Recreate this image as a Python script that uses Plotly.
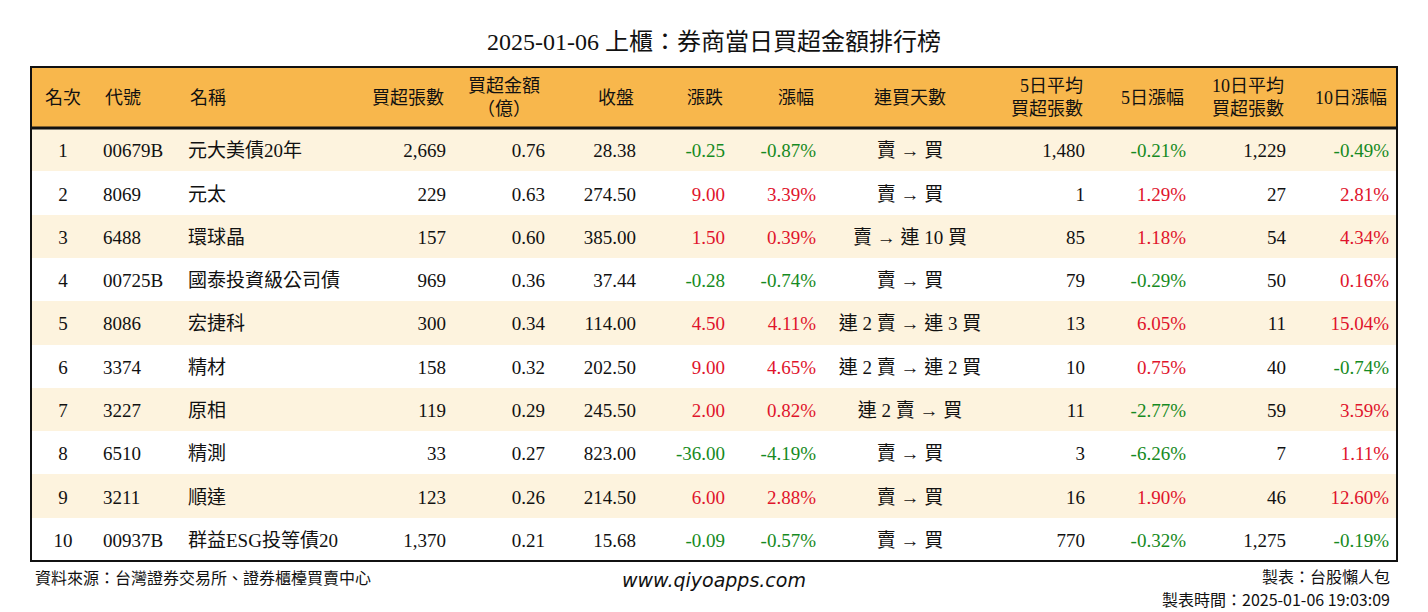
import plotly.graph_objects as go

W, H = 1428, 612

title = "2025-01-06 上櫃：券商當日買超金額排行榜"

headers = ["名次", "代號", "名稱", "買超張數", "買超金額<br>（億）", "收盤", "漲跌", "漲幅",
           "連買天數", "5日平均<br>買超張數", "5日漲幅", "10日平均<br>買超張數", "10日漲幅"]

rank = ["1", "2", "3", "4", "5", "6", "7", "8", "9", "10"]
code = ["00679B", "8069", "6488", "00725B", "8086", "3374", "3227", "6510", "3211", "00937B"]
name = ["元大美債20年", "元太", "環球晶", "國泰投資級公司債", "宏捷科", "精材", "原相", "精測", "順達", "群益ESG投等債20"]
net_lots = ["2,669", "229", "157", "969", "300", "158", "119", "33", "123", "1,370"]
net_amount = ["0.76", "0.63", "0.60", "0.36", "0.34", "0.32", "0.29", "0.27", "0.26", "0.21"]
close = ["28.38", "274.50", "385.00", "37.44", "114.00", "202.50", "245.50", "823.00", "214.50", "15.68"]
change = ["-0.25", "9.00", "1.50", "-0.28", "4.50", "9.00", "2.00", "-36.00", "6.00", "-0.09"]
change_pct = ["-0.87%", "3.39%", "0.39%", "-0.74%", "4.11%", "4.65%", "0.82%", "-4.19%", "2.88%", "-0.57%"]
streak = ["賣 → 買", "賣 → 買", "賣 → 連 10 買", "賣 → 買", "連 2 賣 → 連 3 買", "連 2 賣 → 連 2 買",
          "連 2 賣 → 買", "賣 → 買", "賣 → 買", "賣 → 買"]
avg5_lots = ["1,480", "1", "85", "79", "13", "10", "11", "3", "16", "770"]
pct5 = ["-0.21%", "1.29%", "1.18%", "-0.29%", "6.05%", "0.75%", "-2.77%", "-6.26%", "1.90%", "-0.32%"]
avg10_lots = ["1,229", "27", "54", "50", "11", "40", "59", "7", "46", "1,275"]
pct10 = ["-0.49%", "2.81%", "4.34%", "0.16%", "15.04%", "-0.74%", "3.59%", "1.11%", "12.60%", "-0.19%"]

source_text = "資料來源：台灣證券交易所、證券櫃檯買賣中心"
site_text = "www.qiyoapps.com"
maker_text = "製表：台股懶人包"
time_text = "製表時間：2025-01-06 19:03:09"

columns = [rank, code, name, net_lots, net_amount, close, change, change_pct,
           streak, avg5_lots, pct5, avg10_lots, pct10]

BLACK = "#111111"
GREEN = "#168a22"
RED = "#e0142c"
HEADER_BG = "#f8b74c"
ODD_BG = "#fdf3de"
EVEN_BG = "#ffffff"
CLEAR = "rgba(0,0,0,0)"


def sign_colors(vals):
    return [GREEN if v.startswith("-") else RED for v in vals]


signed = {6, 7, 10, 12}
font_colors = []
for i, col in enumerate(columns):
    if i in signed:
        font_colors.append(sign_colors(col))
    else:
        font_colors.append([BLACK] * len(col))

n_rows = len(rank)
n_cols = len(columns)
row_fill = [ODD_BG if i % 2 == 0 else EVEN_BG for i in range(n_rows)]

col_widths = [64, 85, 174, 100, 99, 91, 89, 91, 172, 97, 101, 100, 103]
cell_align = ["center", "left", "left", "right", "right", "right", "right", "right",
              "center", "right", "right", "right", "right"]
head_align = ["center", "left", "left", "right", "center", "right", "right", "right",
              "center", "right", "right", "right", "right"]

x0, x1 = 31, 1397
y_top, head_h, row_h = 67, 61, 43.3
y_bot = y_top + head_h + row_h * n_rows
text_shift = 7  # table text is top aligned, push it to the middle of each row
PAD = 8

FONT = "Liberation Serif, Noto Sans CJK TC, serif"
CJK = "Noto Sans CJK TC"

domain = dict(x=[x0 / W, x1 / W], y=[0.0, 1 - y_top / H])

fig = go.Figure()

# background table: fills only
fig.add_trace(go.Table(
    domain=domain,
    columnwidth=col_widths,
    header=dict(values=[""] * n_cols, fill_color=HEADER_BG,
                line=dict(color=CLEAR, width=0), height=head_h),
    cells=dict(values=[[""] * n_rows] * n_cols, fill_color=[row_fill] * n_cols,
               line=dict(color=CLEAR, width=0), height=row_h),
))

# text table on top, nudged down
fig.add_trace(go.Table(
    domain=domain,
    columnwidth=col_widths,
    header=dict(values=[""] * n_cols, fill_color=CLEAR,
                line=dict(color=CLEAR, width=0), height=head_h + text_shift),
    cells=dict(
        values=columns,
        fill_color=CLEAR,
        line=dict(color=CLEAR, width=0),
        align=cell_align,
        font=dict(family=FONT, size=19, color=font_colors),
        height=row_h,
    ),
))

# header labels, vertically centred in the header band
edges = [x0]
for w in col_widths:
    edges.append(edges[-1] + w)
head_y = 1 - (y_top + head_h / 2) / H
for i, label in enumerate(headers):
    a = head_align[i]
    if a == "left":
        hx = edges[i] + PAD
    elif a == "right":
        hx = edges[i + 1] - PAD
    else:
        hx = (edges[i] + edges[i + 1]) / 2
    fig.add_annotation(text=label, x=hx / W, y=head_y, xref="paper", yref="paper",
                       xanchor=a, yanchor="middle", align=a,
                       showarrow=False, font=dict(family=FONT, size=18, color=BLACK))

# outer frame and thick header rule
fig.add_shape(type="rect", xref="paper", yref="paper",
              x0=x0 / W, x1=x1 / W, y0=1 - y_bot / H, y1=1 - y_top / H,
              line=dict(color=BLACK, width=2), fillcolor=CLEAR)
fig.add_shape(type="line", xref="paper", yref="paper",
              x0=x0 / W, x1=x1 / W, y0=1 - (y_top + head_h) / H, y1=1 - (y_top + head_h) / H,
              line=dict(color=BLACK, width=3))

fig.add_annotation(text=title, x=0.5, y=1 - 42 / H, xref="paper", yref="paper",
                   xanchor="center", yanchor="middle", showarrow=False,
                   font=dict(family=FONT, size=24, color=BLACK))
fig.add_annotation(text=source_text, x=33 / W, y=1 - 577 / H, xref="paper", yref="paper",
                   xanchor="left", yanchor="middle", showarrow=False,
                   font=dict(family=CJK, size=16, color=BLACK))
fig.add_annotation(text=site_text, x=0.5, y=1 - 580 / H, xref="paper", yref="paper",
                   xanchor="center", yanchor="middle", showarrow=False,
                   font=dict(family="DejaVu Sans", size=19, color=BLACK, style="italic"))
fig.add_annotation(text=maker_text, x=1392 / W, y=1 - 576 / H, xref="paper", yref="paper",
                   xanchor="right", yanchor="middle", showarrow=False,
                   font=dict(family=CJK, size=16, color=BLACK))
fig.add_annotation(text=time_text, x=1392 / W, y=1 - 599 / H, xref="paper", yref="paper",
                   xanchor="right", yanchor="middle", showarrow=False,
                   font=dict(family=CJK, size=16, color=BLACK))

fig.update_layout(width=W, height=H, margin=dict(l=0, r=0, t=0, b=0),
                  paper_bgcolor="white", plot_bgcolor="white")

fig.write_html("out.html", config={"displayModeBar": False},
               post_script="document.body.style.margin='0';")
